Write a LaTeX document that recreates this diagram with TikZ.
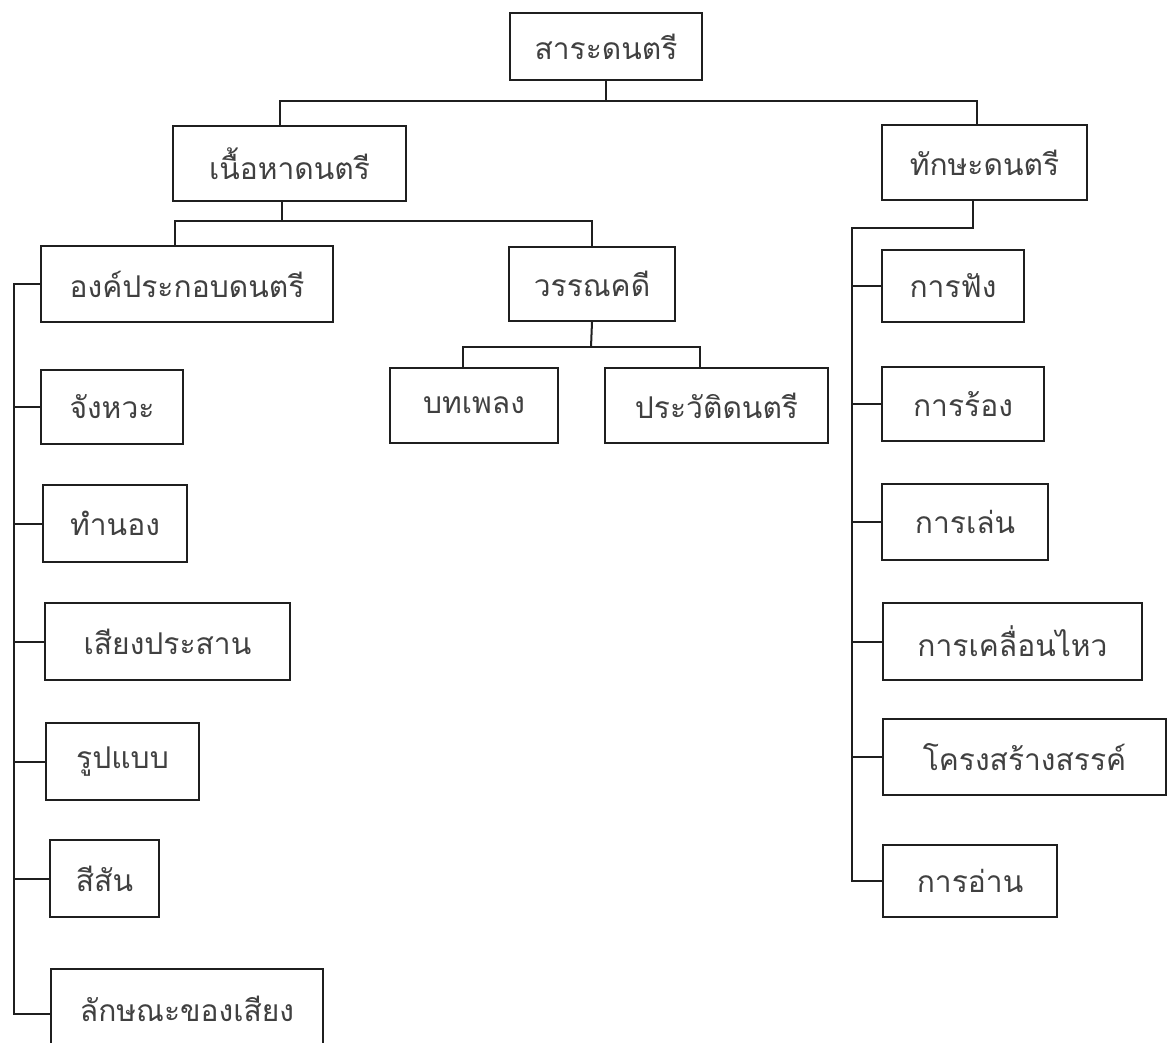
\documentclass[tikz,border=0pt]{standalone}
\usepackage{fontspec}
\newfontfamily\thaifont[Script=Thai]{Loma}
\begin{document}
\begin{tikzpicture}[x=1pt,y=-1pt,
  box/.style={draw=black!88, line width=2pt, rectangle, inner sep=0pt,
    font=\thaifont\fontsize{30}{36}\selectfont, text=black!75},
  link/.style={draw=black!88, line width=2pt}]
\useasboundingbox (0,0) rectangle (1169,1042);
% level 0/1
\node[box, minimum width=192pt, minimum height=67pt] (root) at (606,46.5) {สาระดนตรี};
\node[box, minimum width=233pt, minimum height=75pt] (content) at (289.5,163.5) {เนื้อหาดนตรี};
\node[box, minimum width=205pt, minimum height=75pt] (skill) at (984.5,162.5) {ทักษะดนตรี};
% level 2
\node[box, minimum width=292pt, minimum height=76pt] (comp) at (187,284) {องค์ประกอบดนตรี};
\node[box, minimum width=166pt, minimum height=74pt] (lit) at (592,284) {วรรณคดี};
\node[box, minimum width=168pt, minimum height=75pt] (song) at (474,405.5) {บทเพลง};
\node[box, minimum width=223pt, minimum height=75pt] (hist) at (716.5,405.5) {ประวัติดนตรี};
% left column
\node[box, minimum width=142pt, minimum height=74pt] (rhythm) at (112,407) {จังหวะ};
\node[box, minimum width=144pt, minimum height=77pt] (melody) at (115,523.5) {ทำนอง};
\node[box, minimum width=245pt, minimum height=77pt] (harmony) at (167.5,641.5) {เสียงประสาน};
\node[box, minimum width=153pt, minimum height=77pt] (form) at (122.5,761.5) {รูปแบบ};
\node[box, minimum width=109pt, minimum height=77pt] (timbre) at (104.5,878.5) {สีสัน};
\node[box, minimum width=272pt, minimum height=79pt] (tone) at (187,1008.5) {ลักษณะของเสียง};
% right column
\node[box, minimum width=142pt, minimum height=72pt] (listen) at (953,286) {การฟัง};
\node[box, minimum width=162pt, minimum height=74pt] (sing) at (963,404) {การร้อง};
\node[box, minimum width=166pt, minimum height=76pt] (play) at (965,522) {การเล่น};
\node[box, minimum width=259pt, minimum height=77pt] (move) at (1012.5,641.5) {การเคลื่อนไหว};
\node[box, minimum width=283pt, minimum height=76pt] (create) at (1024.5,757) {โครงสร้างสรรค์};
\node[box, minimum width=174pt, minimum height=72pt] (read) at (970,881) {การอ่าน};
% junction coordinates
\coordinate (b1) at (606,101);
\coordinate (b2) at (282,221);
\coordinate (b3) at (973,228);
\coordinate (t3) at (852,228);
\coordinate (b5) at (591,347);
\coordinate (lt) at (14,284);
% connectors
\draw[link] (root.south) -- (b1);
\draw[link] ([xshift=-9.5pt]content.north) |- (b1) -| ([xshift=-7.5pt]skill.north);
\draw[link] ([xshift=-7.5pt]content.south) -- (b2);
\draw[link] ([xshift=-12pt]comp.north) |- (b2) -| (lit.north);
\draw[link] (lit.south) -- (b5);
\draw[link] ([xshift=-11pt]song.north) |- (b5) -| ([xshift=-16.5pt]hist.north);
\draw[link] ([xshift=-11.5pt]skill.south) -- (b3) -- (t3) |- (read.west);
\draw[link] (listen.west) -- (listen.west -| t3);
\draw[link] (sing.west) -- (sing.west -| t3);
\draw[link] (play.west) -- (play.west -| t3);
\draw[link] (move.west) -- (move.west -| t3);
\draw[link] (create.west) -- (create.west -| t3);
\draw[link] (comp.west) -- (lt) |- ([yshift=-5.5pt]tone.west);
\draw[link] (rhythm.west) -- (rhythm.west -| lt);
\draw[link] (melody.west) -- (melody.west -| lt);
\draw[link] (harmony.west) -- (harmony.west -| lt);
\draw[link] (form.west) -- (form.west -| lt);
\draw[link] (timbre.west) -- (timbre.west -| lt);
\end{tikzpicture}
\end{document}
